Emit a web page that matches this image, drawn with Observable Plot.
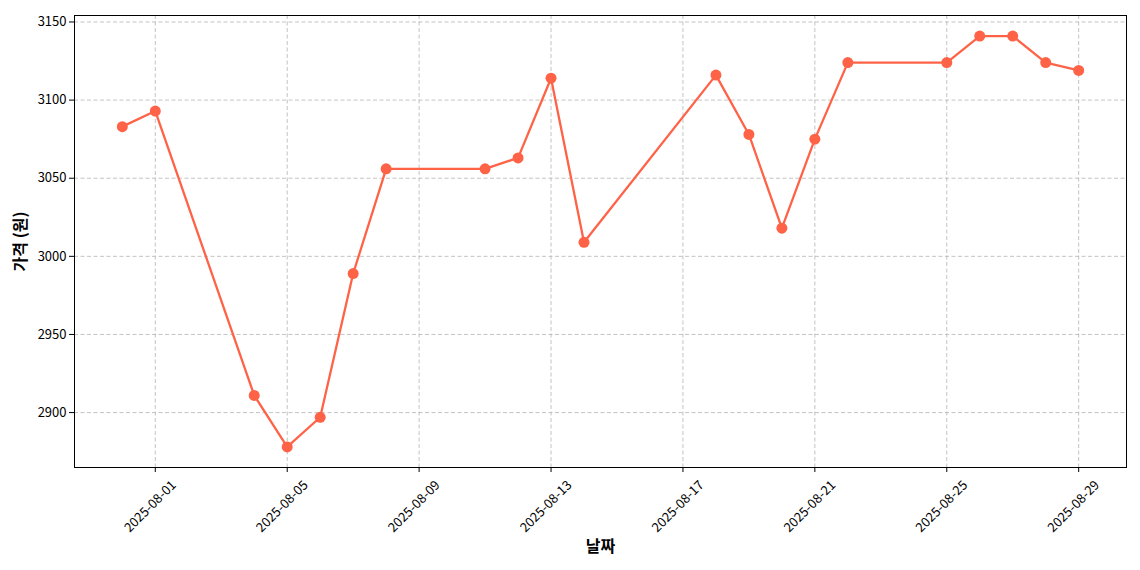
<!DOCTYPE html>
<html>
<head>
<meta charset="utf-8">
<script src="https://cdn.jsdelivr.net/npm/d3@7"></script>
<script src="https://cdn.jsdelivr.net/npm/@observablehq/plot@0.6"></script>
<style>
  html, body { margin: 0; padding: 0; background: white; }
</style>
</head>
<body>
<div id="chart"></div>
<script>
const dates = ["2025-07-31","2025-08-01","2025-08-04","2025-08-05","2025-08-06","2025-08-07","2025-08-08","2025-08-11","2025-08-12","2025-08-13","2025-08-14","2025-08-18","2025-08-19","2025-08-20","2025-08-21","2025-08-22","2025-08-25","2025-08-26","2025-08-27","2025-08-28","2025-08-29"];
const prices = [3083,3093,2911,2878,2897,2989,3056,3056,3063,3114,3009,3116,3078,3018,3075,3124,3124,3141,3141,3124,3119];
const xTickLabels = ["2025-08-01","2025-08-05","2025-08-09","2025-08-13","2025-08-17","2025-08-21","2025-08-25","2025-08-29"];
const yTicks = [2900,2950,3000,3050,3100,3150];
const xLabel = "날짜";
const yLabel = "가격 (원)";

const parse = d3.utcParse("%Y-%m-%d");
const data = dates.map((d, i) => ({date: parse(d), price: prices[i]}));
const xTicks = xTickLabels.map(parse);

// matplotlib-style 5% margins
const x0 = data[0].date, x1 = data[data.length - 1].date;
const xpad = (x1 - x0) * 0.05;
const ymin = d3.min(prices), ymax = d3.max(prices);
const ypad = (ymax - ymin) * 0.05;

const color = "#FF6347";
const gridStyle = {stroke: "#b0b0b0", strokeOpacity: 0.85, strokeDasharray: "4,2.5", strokeWidth: 0.9};

const chart = Plot.plot({
  width: 1140,
  height: 570,
  marginLeft: 74,
  marginRight: 14,
  marginTop: 15,
  marginBottom: 103,
  style: {fontFamily: "'Noto Sans CJK KR', 'Noto Sans', sans-serif", fontSize: "13px", color: "black", background: "white"},
  x: {type: "utc", domain: [new Date(+x0 - xpad), new Date(+x1 + xpad)]},
  y: {domain: [ymin - ypad, ymax + ypad]},
  marks: [
    Plot.gridX({ticks: xTicks, ...gridStyle}),
    Plot.gridY({ticks: yTicks, ...gridStyle}),
    Plot.axisY({ticks: yTicks, tickSize: 5, tickPadding: 3, tickFormat: d3.format("d"), label: null, fontSize: 13}),
    Plot.axisX({ticks: xTicks, tickSize: 5, text: null, label: null}),
    Plot.axisX({ticks: xTicks, tickSize: 0, tickRotate: -45, textAnchor: "middle", lineAnchor: "middle", tickPadding: 39, tickFormat: d3.utcFormat("%Y-%m-%d"), label: null, fontSize: 13, dx: -5}),
    Plot.text([yLabel], {text: d => d, frameAnchor: "left", dx: -54, rotate: -90, textAnchor: "middle", lineAnchor: "middle", fontWeight: "bold", fontSize: 16}),
    Plot.text([xLabel], {text: d => d, frameAnchor: "bottom", dy: 79, textAnchor: "middle", lineAnchor: "middle", fontWeight: "bold", fontSize: 16}),
    Plot.line(data, {x: "date", y: "price", stroke: color, strokeWidth: 2.3}),
    Plot.dot(data, {x: "date", y: "price", fill: color, r: 5.5}),
    Plot.frame({stroke: "black", strokeWidth: 1})
  ]
});
document.getElementById("chart").appendChild(chart);
</script>
</body>
</html>
